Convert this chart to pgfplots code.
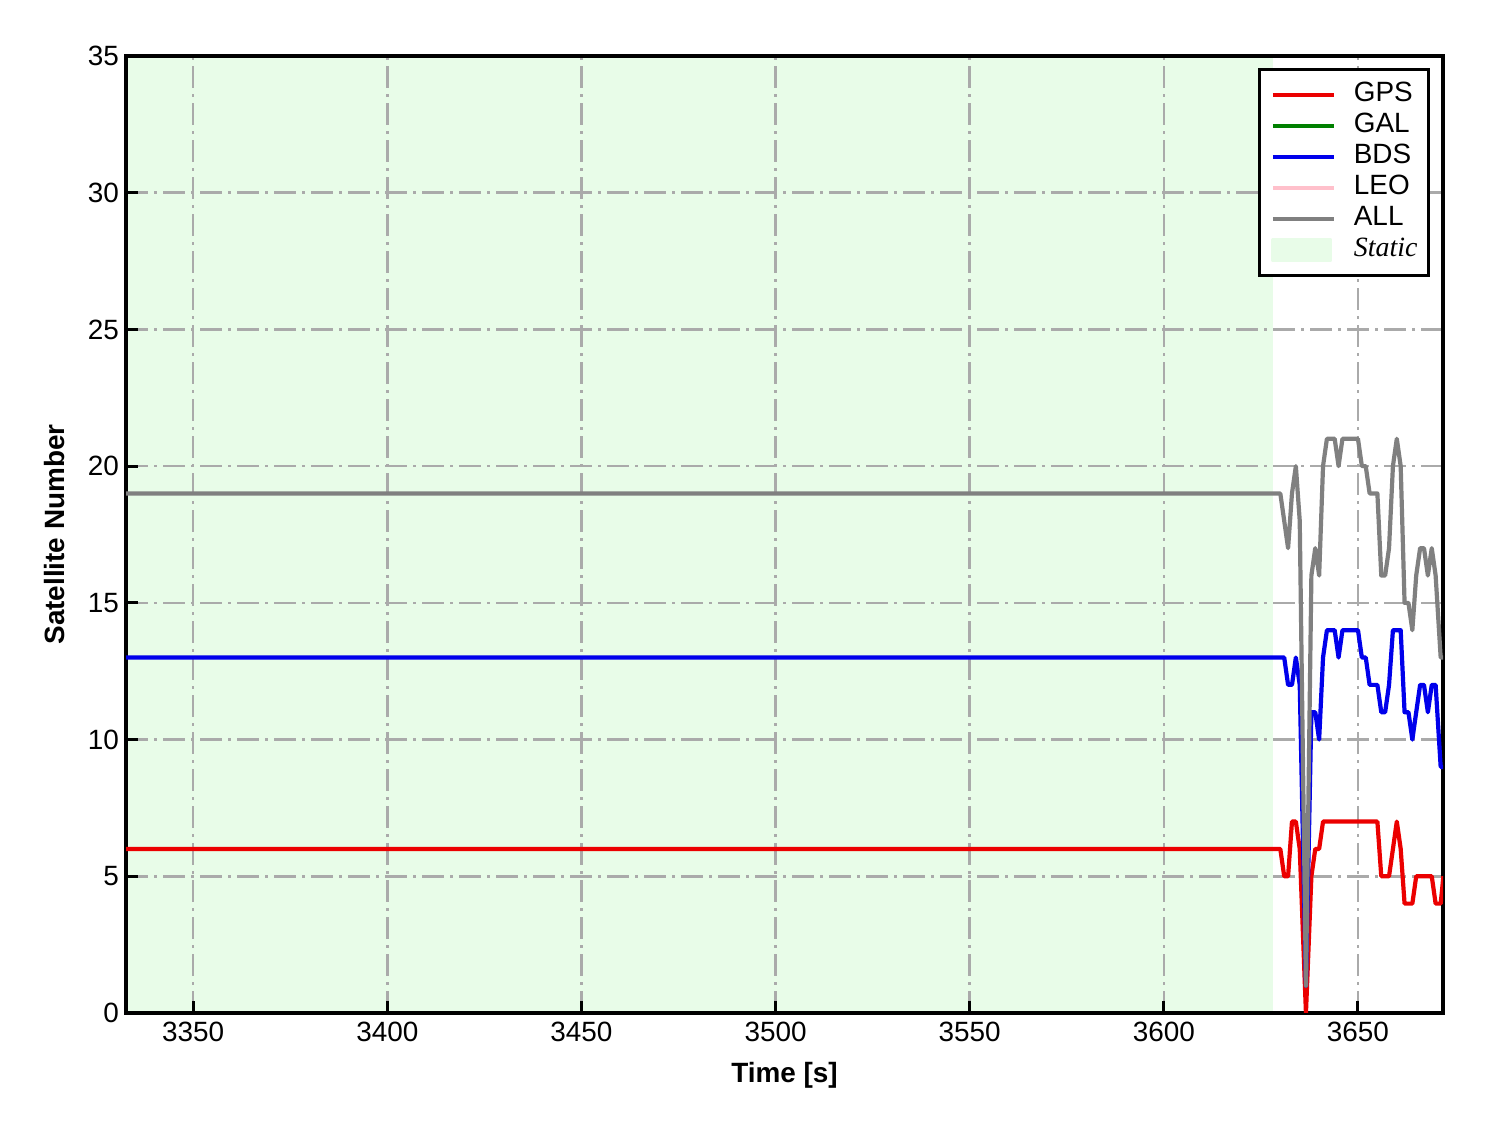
\documentclass[border=0pt]{standalone}
\usepackage{fontspec}
\setmainfont{Liberation Sans}
\newfontfamily\timesfont{Liberation Serif}
\usepackage{pgfplots}
\usepackage{pgfplotstable}
\pgfplotsset{compat=1.18}
\definecolor{staticgreen}{RGB}{232,252,232}
\definecolor{gridgray}{RGB}{170,170,170}
\definecolor{allgray}{RGB}{128,128,128}
\definecolor{leopink}{RGB}{255,192,203}
\definecolor{galgreen}{RGB}{0,128,0}
\definecolor{gpsred}{RGB}{235,0,0}
\definecolor{bdsblue}{RGB}{0,0,235}
\pgfplotstableread{
t gps bds all
3330 6 13 19
3630 6 13 19
3631 5 13 18
3632 5 12 17
3633 7 12 19
3634 7 13 20
3635 6 12 18
3636.6 0 1 1
3638 5 11 16
3639 6 11 17
3640 6 10 16
3641 7 13 20
3642 7 14 21
3644 7 14 21
3645 7 13 20
3646 7 14 21
3650 7 14 21
3651 7 13 20
3652 7 13 20
3653 7 12 19
3655 7 12 19
3656 5 11 16
3657 5 11 16
3658 5 12 17
3659 6 14 20
3660 7 14 21
3661 6 14 20
3662 4 11 15
3663 4 11 15
3664 4 10 14
3665 5 11 16
3666 5 12 17
3667 5 12 17
3668 5 11 16
3669 5 12 17
3670 4 12 16
3671.3 4 9 13
3672 5 9 13
}\sats
\begin{document}
\begin{tikzpicture}
\begin{axis}[
  set layers=standard,
  scale only axis, width=658.5bp, height=478.5bp,
  xmin=3332.7, xmax=3671.9, ymin=0, ymax=35,
  xtick={3350,3400,...,3650}, ytick={0,5,...,35},
  tick pos=left, tick align=inside,
  major tick length=6bp,
  every tick/.style={black, line width=1.5bp},
  axis line style={line width=1.6bp},
  grid=major,
  major grid style={gridgray, line width=1.25bp, dash pattern=on 11bp off 3bp on 1.5bp off 3bp},
  ticklabel style={font=\fontsize{14}{16}\selectfont},
  xticklabel style={yshift=-1bp},
  /pgf/number format/assume math mode=true,
  /pgf/number format/1000 sep={},
  xlabel={Time [s]}, ylabel={Satellite Number},
  label style={font=\fontsize{14}{16}\selectfont\bfseries},
  xlabel style={at={(axis description cs:0.5,-0.0648)}, anchor=center},
  ylabel style={at={(axis description cs:-0.0539,0.5)}, anchor=center},
  legend image code/.code={\draw[#1] (0bp,0bp) -- (30.5bp,0bp); \path (39.5bp,0bp);},
  legend cell align=left,
  legend style={at={(rel axis cs:1,1)}, anchor=north east, xshift=-6.5bp, yshift=-6bp,
    draw=black, line width=1.6bp, font=\fontsize{14}{15.5}\selectfont,
    inner xsep=5.5bp, inner ysep=5bp, row sep=0pt,
    nodes={inner sep=0pt, text height=11bp, text depth=4.5bp}},
  every axis plot/.append style={line join=round},
]
\addplot[fill=staticgreen, draw=none, forget plot, on layer=axis background]
  coordinates {(3332.7,35) (3628,35)} \closedcycle;
\addplot[gpsred, line width=2.1bp] table[x=t, y=gps] {\sats};
\addlegendentry{GPS}
\addlegendimage{galgreen, line width=2.1bp}
\addlegendentry{GAL}
\addplot[bdsblue, line width=2.1bp] table[x=t, y=bds] {\sats};
\addlegendentry{BDS}
\addlegendimage{leopink, line width=2.1bp}
\addlegendentry{LEO}
\addplot[allgray, line width=2.1bp] table[x=t, y=all] {\sats};
\addlegendentry{ALL}
\addlegendimage{legend image code/.code={\fill[staticgreen] (0bp,-5bp) rectangle (29bp,5bp); \path (39.5bp,0bp);}}
\addlegendentry{\timesfont\itshape Static}
\coordinate (sw) at (rel axis cs:0,0);
\coordinate (ne) at (rel axis cs:1,1);
\end{axis}
\pgfresetboundingbox
\path (sw) ++(-63bp,-60bp);
\path (ne) ++(22.5bp,28bp);
\end{tikzpicture}
\end{document}
